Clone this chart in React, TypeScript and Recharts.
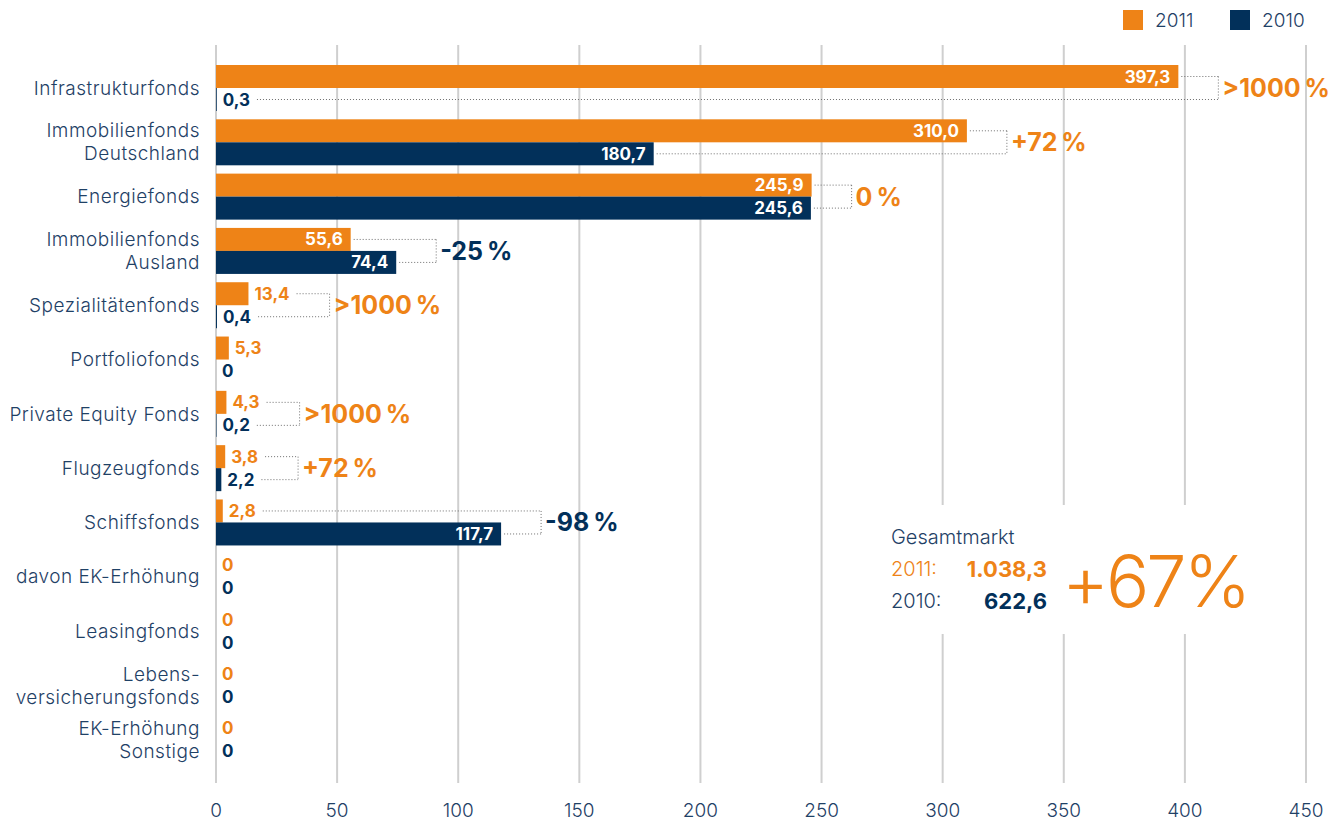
import { BarChart, Bar, XAxis, YAxis, CartesianGrid } from 'recharts';

const categories = [
  'Infrastrukturfonds',
  'Immobilienfonds\nDeutschland',
  'Energiefonds',
  'Immobilienfonds\nAusland',
  'Spezialitätenfonds',
  'Portfoliofonds',
  'Private Equity Fonds',
  'Flugzeugfonds',
  'Schiffsfonds',
  'davon EK-Erhöhung',
  'Leasingfonds',
  'Lebens-\nversicherungsfonds',
  'EK-Erhöhung\nSonstige',
];
const values2011 = [397.3, 310.0, 245.9, 55.6, 13.4, 5.3, 4.3, 3.8, 2.8, 0, 0, 0, 0];
const values2010 = [0.3, 180.7, 245.6, 74.4, 0.4, 0, 0.2, 2.2, 117.7, 0, 0, 0, 0];
const changes = ['>1000 %', '+72 %', '0 %', '-25 %', '>1000 %', '', '>1000 %', '+72 %', '-98 %', '', '', '', ''];
const xTicks = [0, 50, 100, 150, 200, 250, 300, 350, 400, 450];

const ORANGE = '#ee8317';
const NAVY = '#02305a';
const TEXT = '#1f4166';
const FONT = 'Inter, "Liberation Sans", sans-serif';
const BAR = 23;

const data = categories.map((name, i) => ({
  name,
  y2011: values2011[i],
  y2010: values2010[i],
}));

function fmt(v: number) {
  if (v === 0) return '0';
  return v.toFixed(1).replace('.', ',');
}

let ctx: CanvasRenderingContext2D | null = null;
function textWidth(s: string) {
  if (!ctx) ctx = document.createElement('canvas').getContext('2d');
  if (!ctx) return s.length * 9.5;
  ctx.font = `700 17px ${FONT}`;
  return ctx.measureText(s).width;
}

function ValueLabel({ x, y, w, v, color }: any) {
  const inside = w > 60;
  return (
    <text
      x={inside ? x + w - 8 : x + w + 6}
      y={y + BAR / 2}
      textAnchor={inside ? 'end' : 'start'}
      dominantBaseline="central"
      fill={inside ? '#fff' : color}
      fontWeight={700}
      fontSize={17}
      fontFamily={FONT}
    >
      {fmt(v)}
    </text>
  );
}

function OrangeShape(props: any) {
  const { x, y, width, height, index } = props;
  const v = values2011[index];
  const nv = values2010[index];
  const change = changes[index];
  let bracket = null;
  if (change && v > 0) {
    const k = width / v;
    const oEnd = x + v * k;
    const nEnd = x + nv * k;
    const oIn = v * k > 60;
    const nIn = nv * k > 60;
    const oExt = oIn ? oEnd : oEnd + 6 + textWidth(fmt(v));
    const nExt = nIn ? nEnd : nEnd + 6 + textWidth(fmt(nv));
    const bx = Math.max(oExt, nExt) + 40;
    const oy = y + height / 2;
    const ny = y + height + BAR / 2;
    const dot = { stroke: '#6f6f6f', strokeWidth: 1, strokeDasharray: '1 2' };
    bracket = (
      <g>
        <line x1={oIn ? oEnd + 3 : oExt + 7} y1={oy} x2={bx} y2={oy} {...dot} />
        <line x1={nIn ? nEnd + 3 : nExt + 7} y1={ny} x2={bx} y2={ny} {...dot} />
        <line x1={bx} y1={oy} x2={bx} y2={ny} {...dot} />
        <text
          x={bx + 4}
          y={y + height}
          dominantBaseline="central"
          fill={change.startsWith('-') ? NAVY : ORANGE}
          fontWeight={700}
          fontSize={25}
          fontFamily={FONT}
        >
          {change.replace(' ', '\u2009')}
        </text>
      </g>
    );
  }
  return (
    <g>
      <rect x={x} y={y} width={Math.max(width, 0)} height={height} fill={ORANGE} />
      <ValueLabel x={x} y={y} w={width} v={v} color={ORANGE} />
      {bracket}
    </g>
  );
}

function NavyShape(props: any) {
  const { x, y, width, height, index } = props;
  const v = values2010[index];
  return (
    <g>
      <rect x={x} y={y} width={Math.max(width, 0)} height={height} fill={NAVY} />
      <ValueLabel x={x} y={y} w={width} v={v} color={NAVY} />
    </g>
  );
}

function CategoryTick({ x, y, payload }: any) {
  const lines = String(payload.value).split('\n');
  const lh = 23;
  const start = y - ((lines.length - 1) * lh) / 2;
  return (
    <text textAnchor="end" fill={TEXT} fontSize={19} fontWeight={300} fontFamily={FONT} letterSpacing={0.5}>
      {lines.map((l, i) => (
        <tspan key={i} x={x} y={start + i * lh} dominantBaseline="central">
          {l}
        </tspan>
      ))}
    </text>
  );
}

export default function App() {
  return (
    <div style={{ position: 'absolute', left: 0, top: 0, width: 1330, height: 821, background: '#fff' }}>
      <BarChart
        width={1330}
        height={821}
        data={data}
        layout="vertical"
        margin={{ top: 45, right: 24, left: 0, bottom: 0 }}
        barGap={0}
        barSize={BAR}
      >
        <CartesianGrid horizontal={false} stroke="#cfcfcf" strokeWidth={2} />
        <XAxis
          type="number"
          domain={[0, 450]}
          ticks={xTicks}
          axisLine={false}
          tickLine={false}
          tickSize={0}
          tickMargin={21}
          height={38}
          tick={{ fill: TEXT, fontSize: 19, fontWeight: 300, fontFamily: FONT }}
        />
        <YAxis
          type="category"
          dataKey="name"
          width={216}
          axisLine={false}
          tickLine={false}
          tickSize={0}
          tickMargin={16}
          interval={0}
          padding={{ top: 16, bottom: 16 }}
          tick={<CategoryTick />}
        />
        <Bar dataKey="y2011" shape={<OrangeShape />} isAnimationActive={false} />
        <Bar dataKey="y2010" shape={<NavyShape />} isAnimationActive={false} />
      </BarChart>

      <svg width={1330} height={821} style={{ position: 'absolute', left: 0, top: 0, pointerEvents: 'none' }}>
        <rect x={1123} y={10} width={20} height={20} fill={ORANGE} />
        <text x={1155} y={20} dominantBaseline="central" fill={TEXT} fontSize={19} fontWeight={300} fontFamily={FONT}>
          2011
        </text>
        <rect x={1230} y={10} width={20} height={20} fill={NAVY} />
        <text x={1262} y={20} dominantBaseline="central" fill={TEXT} fontSize={19} fontWeight={300} fontFamily={FONT}>
          2010
        </text>

        <rect x={878} y={505} width={392} height={129} fill="#fff" />
        <text x={891} y={537} dominantBaseline="central" fill={TEXT} fontSize={20} fontWeight={300} fontFamily={FONT}>
          Gesamtmarkt
        </text>
        <text x={891} y={569} dominantBaseline="central" fill={ORANGE} fontSize={20} fontWeight={300} fontFamily={FONT}>
          2011:
        </text>
        <text x={1047} y={569} textAnchor="end" dominantBaseline="central" fill={ORANGE} fontSize={22} fontWeight={700} fontFamily={FONT}>
          1.038,3
        </text>
        <text x={891} y={601} dominantBaseline="central" fill={TEXT} fontSize={20} fontWeight={300} fontFamily={FONT}>
          2010:
        </text>
        <text x={1047} y={601} textAnchor="end" dominantBaseline="central" fill={NAVY} fontSize={22} fontWeight={700} fontFamily={FONT}>
          622,6
        </text>
        <text x={1062} y={607} fill={ORANGE} fontSize={72} fontWeight={300} fontFamily={FONT} letterSpacing={-3}>
          +67%
        </text>
      </svg>
    </div>
  );
}
